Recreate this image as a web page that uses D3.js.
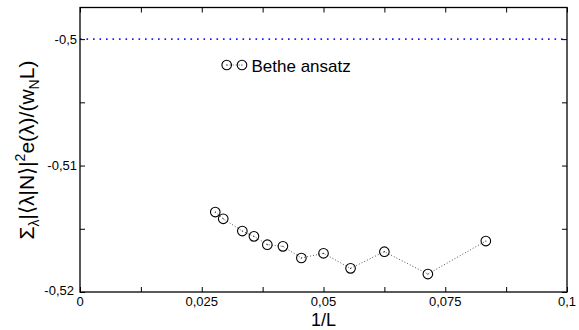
<!DOCTYPE html>
<html><head><meta charset="utf-8">
<script src="https://cdn.jsdelivr.net/npm/d3@7"></script>
<style>body{margin:0;background:#fff}svg{display:block}text{font-family:"Liberation Sans",Arial,sans-serif}</style>
</head><body><svg id="c" width="579" height="330"></svg>
<script>
const L = [36, 34, 30, 28, 26, 24, 22, 20, 18, 16, 14, 12];
const values = [-0.51368, -0.51421, -0.51518, -0.51560, -0.51626, -0.51639, -0.51731, -0.51694, -0.51813, -0.51681, -0.51858, -0.51597];
const refValue = -0.5;
const xTicks = [0, 0.025, 0.05, 0.075, 0.1];
const xTickLabels = ["0", "0,025", "0,05", "0,075", "0,1"];
const yTicks = [-0.52, -0.51, -0.5];
const yTickLabels = ["-0,52", "-0,51", "-0,5"];
const legendLabel = "Bethe ansatz";

const svg = d3.select("#c");
const m = {l: 80, r: 567, t: 7.5, b: 292};
const x = d3.scaleLinear().domain([0, 0.1]).range([m.l, m.r]);
const y = d3.scaleLinear().domain([-0.52, -0.4975]).range([m.b, m.t]);

// reference line
svg.append("line").attr("x1", m.l).attr("x2", m.r).attr("y1", y(refValue)).attr("y2", y(refValue))
  .attr("stroke", "#1a1aff").attr("stroke-width", 1.6).attr("stroke-dasharray", "1.6,4.9");

const pts = L.map((l, i) => [1 / l, values[i]]);
svg.append("path").datum(pts).attr("fill", "none").attr("stroke", "#555").attr("stroke-width", 1)
  .attr("stroke-dasharray", "1,2").attr("d", d3.line().x(d => x(d[0])).y(d => y(d[1])));
svg.selectAll("circle.p").data(pts).enter().append("circle").attr("class", "p")
  .attr("cx", d => x(d[0])).attr("cy", d => y(d[1])).attr("r", 4.8)
  .attr("fill", "none").attr("stroke", "#000").attr("stroke-width", 1.1);
svg.selectAll("circle.c").data(pts).enter().append("circle").attr("class", "c")
  .attr("cx", d => x(d[0])).attr("cy", d => y(d[1])).attr("r", 0.6).attr("fill", "#222");

// frame
svg.append("rect").attr("x", m.l).attr("y", m.t).attr("width", m.r - m.l).attr("height", m.b - m.t)
  .attr("fill", "none").attr("stroke", "#000").attr("stroke-width", 1.3);

// axes with inward ticks
const xMinor = d3.range(0, 0.1001, 0.0125);
const yMinor = [-0.52, -0.515, -0.51, -0.505, -0.5];
const axB = d3.axisBottom(x).tickValues(xMinor).tickSize(-5).tickFormat("");
const axT = d3.axisTop(x).tickValues(xMinor).tickSize(-5).tickFormat("");
const axL = d3.axisLeft(y).tickValues(yMinor).tickSize(-5).tickFormat("");
const axR = d3.axisRight(y).tickValues(yMinor).tickSize(-5).tickFormat("");
[[axB, `translate(0,${m.b})`], [axT, `translate(0,${m.t})`], [axL, `translate(${m.l},0)`], [axR, `translate(${m.r},0)`]].forEach(([a, t]) => {
  const g = svg.append("g").attr("transform", t).call(a);
  g.select(".domain").remove();
  g.selectAll("line").attr("stroke", "#000").attr("stroke-width", 1);
});

// tick labels
svg.selectAll("text.xt").data(xTicks).enter().append("text").attr("class", "xt")
  .attr("x", d => x(d)).attr("y", 306).attr("text-anchor", "middle").attr("font-size", 13)
  .text((d, i) => xTickLabels[i]);
svg.selectAll("text.yt").data(yTicks).enter().append("text").attr("class", "yt")
  .attr("x", (d, i) => i === 0 ? 74 : 77).attr("y", (d, i) => y(d) + (i === 0 ? 3 : 4.5)).attr("text-anchor", "end").attr("font-size", 13)
  .text((d, i) => yTickLabels[i]);

// axis titles
svg.append("text").attr("x", 323.5).attr("y", 326).attr("text-anchor", "middle").attr("font-size", 18).text("1/L");
const yt = svg.append("text").attr("transform", "translate(34,150) rotate(-90)").attr("text-anchor", "middle").attr("font-size", 21);
yt.append("tspan").text("Σ");
yt.append("tspan").attr("font-size", 14).attr("dy", 5).text("λ");
yt.append("tspan").attr("dy", -5).text("|⟨λ|N⟩|");
yt.append("tspan").attr("font-size", 14).attr("dy", -9).text("2");
yt.append("tspan").attr("dy", 9).text("e(λ)/(w");
yt.append("tspan").attr("font-size", 14).attr("dy", 5).text("N");
yt.append("tspan").attr("dy", -5).text("L)");

// legend
const lx1 = 226.7, lx2 = 242, ly = 65;
svg.append("line").attr("x1", lx1).attr("x2", lx2).attr("y1", ly).attr("y2", ly)
  .attr("stroke", "#555").attr("stroke-dasharray", "1,2");
[lx1, lx2].forEach(cx => {
  svg.append("circle").attr("cx", cx).attr("cy", ly).attr("r", 4.8).attr("fill", "none").attr("stroke", "#000").attr("stroke-width", 1.1);
  svg.append("circle").attr("cx", cx).attr("cy", ly).attr("r", 0.6).attr("fill", "#222");
});
svg.append("text").attr("x", 251.5).attr("y", 71.5).attr("font-size", 17).text(legendLabel);
</script></body></html>
